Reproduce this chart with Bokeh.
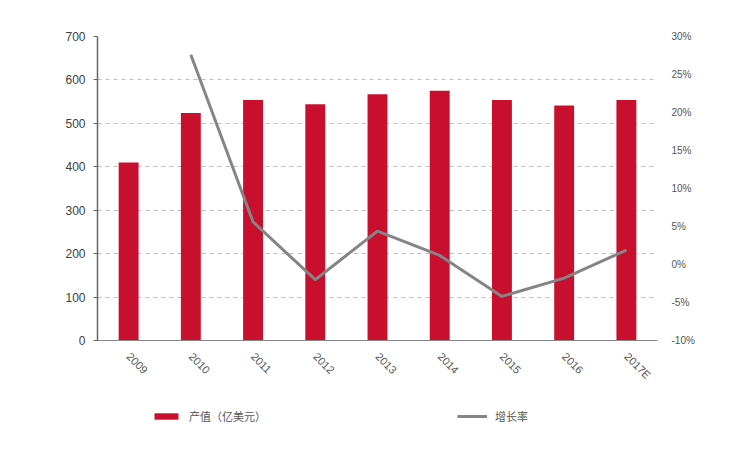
import math
from bokeh.plotting import figure
from bokeh.layouts import column
from bokeh.models import (ColumnDataSource, Range1d, LinearAxis, FactorRange,
                          NumeralTickFormatter, FixedTicker, Legend, LegendItem)
from bokeh.embed import file_html
from bokeh.resources import INLINE

years = ["2009", "2010", "2011", "2012", "2013", "2014", "2015", "2016", "2017E"]
output_value = [410, 524, 554, 544, 567, 575, 554, 541, 554]
growth_years = ["2010", "2011", "2012", "2013", "2014", "2015", "2016", "2017E"]
growth_rate = [0.276, 0.056, -0.020, 0.044, 0.012, -0.042, -0.018, 0.019]
left_ticks = [0, 100, 200, 300, 400, 500, 600, 700]
right_ticks = [-0.10, -0.05, 0.0, 0.05, 0.10, 0.15, 0.20, 0.25, 0.30]
legend_labels = ["产值（亿美元）", "增长率"]

FONT = "Liberation Sans"
BAR_COLOR = "#C8102E"
LINE_COLOR = "#858585"

bar_src = ColumnDataSource(dict(x=years, y=output_value))
line_src = ColumnDataSource(dict(x=growth_years, y=growth_rate))

p = figure(width=756, height=400, x_range=FactorRange(*years, range_padding=0),
           y_range=Range1d(0, 700), output_backend="svg", toolbar_location=None,
           min_border_left=97, min_border_right=99, min_border_top=36, min_border_bottom=60)
p.outline_line_color = None
p.background_fill_color = "white"
p.border_fill_color = "white"

p.vbar(x="x", top="y", width=0.32, source=bar_src, fill_color=BAR_COLOR, line_color=None)
p.extra_y_ranges = {"rate": Range1d(-0.10, 0.30)}
p.line(x="x", y="y", source=line_src, y_range_name="rate",
       line_color=LINE_COLOR, line_width=3)

# grid
p.xgrid.grid_line_color = None
p.ygrid.ticker = FixedTicker(ticks=left_ticks)
p.ygrid.grid_line_color = "#BDBDBD"
p.ygrid.grid_line_dash = "4 4"

# left axis
ya = p.yaxis[0]
ya.ticker = FixedTicker(ticks=left_ticks)
ya.axis_line_color = "#666666"
ya.axis_line_width = 1.5
ya.major_tick_line_color = "#666666"
ya.major_tick_in = 0
ya.major_tick_out = 4
ya.minor_tick_line_color = None
ya.major_label_text_font = FONT
ya.major_label_text_font_size = "12px"
ya.major_label_text_color = "#404040"
ya.major_label_standoff = 8

# right axis
ra = LinearAxis(y_range_name="rate", ticker=FixedTicker(ticks=right_ticks),
                formatter=NumeralTickFormatter(format="0%"))
ra.axis_line_color = None
ra.major_tick_line_color = None
ra.minor_tick_line_color = None
ra.major_label_text_font = FONT
ra.major_label_text_font_size = "10px"
ra.major_label_text_color = "#555555"
ra.major_label_standoff = 8
p.add_layout(ra, "right")

# x axis
xa = p.xaxis[0]
xa.axis_line_color = "#888888"
xa.major_tick_line_color = None
xa.minor_tick_line_color = None
xa.major_label_orientation = -math.pi / 4
xa.major_label_text_font = FONT
xa.major_label_text_font_size = "11px"
xa.major_label_text_color = "#555555"
xa.major_label_standoff = 8

# legend strip below the chart (same data, drawn outside its visible range)
pl = figure(width=756, height=59, x_range=FactorRange(*years, range_padding=0),
            y_range=Range1d(5000, 5001), output_backend="svg", toolbar_location=None,
            min_border=0)
pl.axis.visible = False
pl.grid.visible = False
pl.outline_line_color = None
pl.extra_y_ranges = {"rate": Range1d(50, 51)}
lb = pl.vbar(x="x", top="y", width=0.32, source=bar_src, fill_color=BAR_COLOR, line_color=None)
ll = pl.line(x="x", y="y", source=line_src, y_range_name="rate",
             line_color=LINE_COLOR, line_width=3)
legend = Legend(items=[LegendItem(label=legend_labels[0], renderers=[lb]),
                       LegendItem(label=legend_labels[1], renderers=[ll])],
                orientation="horizontal", location=(54, 35),
                label_text_font="Noto Sans CJK SC", label_text_font_size="11px",
                label_text_color="#555555", border_line_color=None,
                background_fill_alpha=0, spacing=191, glyph_width=30,
                glyph_height=8, label_standoff=8, margin=0, padding=4)
pl.add_layout(legend)

layout = column(p, pl, spacing=0)
open("out.html", "w").write(file_html(layout, INLINE))
